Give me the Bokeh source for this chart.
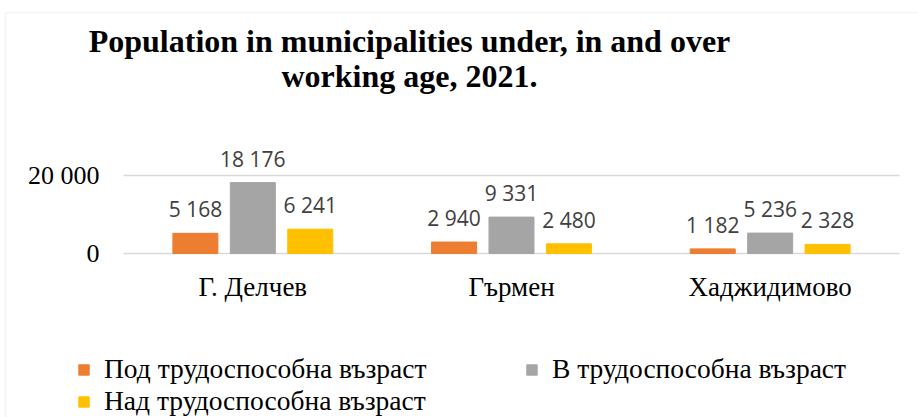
from bokeh.plotting import figure
from bokeh.models import (ColumnDataSource, Range1d, Label, Legend, LegendItem, BoxAnnotation)
from bokeh.core.properties import value
from bokeh.embed import file_html
from bokeh.resources import INLINE

categories = ["Г. Делчев", "Гърмен", "Хаджидимово"]
under_age = [5168, 2940, 1182]
working_age = [18176, 9331, 5236]
over_age = [6241, 2480, 2328]
series_names = ["Под трудоспособна възраст", "В трудоспособна възраст", "Над трудоспособна възраст"]
series_colors = ["#ED7D31", "#A5A5A5", "#FFC000"]
y_ticks = [0, 20000]
y_tick_labels = ["0", "20 000"]
title_lines = ["Population in municipalities under, in and over", "working age, 2021."]


def fmt(v):
    return f"{v:,}".replace(",", " ")


# ---- layout (pixels) ----
W, H = 918, 417
PLOT_L, PLOT_R = 123, 899        # plot area left/right edge (px)
Y0_PX, YMAX_PX = 253, 175        # pixel rows of value 0 and of the top tick
YMAX = y_ticks[-1]
n = len(categories)
px_per_cat = (PLOT_R - PLOT_L) / n
px_per_val = (Y0_PX - YMAX_PX) / YMAX

x_start = -0.5 - PLOT_L / px_per_cat
x_end = n - 0.5 + (W - PLOT_R) / px_per_cat
y_start = -(H - Y0_PX) / px_per_val
y_end = YMAX + YMAX_PX / px_per_val

p = figure(width=W, height=H, x_range=Range1d(x_start, x_end), y_range=Range1d(y_start, y_end),
           output_backend="svg", toolbar_location=None,
           x_axis_location=None, y_axis_location=None,
           min_border=0, min_border_left=0, min_border_right=0,
           min_border_top=0, min_border_bottom=0)
p.outline_line_color = None
p.xgrid.visible = False
p.ygrid.visible = False
p.background_fill_color = "white"
p.border_fill_color = "white"

SERIF = "Liberation Serif"
idx = list(range(n))

# gridlines at tick values
p.segment(x0=[-0.5] * len(y_ticks), x1=[n - 0.5] * len(y_ticks), y0=y_ticks, y1=y_ticks,
          line_color="#D9D9D9", line_width=1.5)

# y tick labels
p.text(x=[-0.5] * len(y_ticks), y=y_ticks, text=y_tick_labels, x_offset=-24,
       text_align="right", text_baseline="middle",
       text_font=value(SERIF), text_font_size="26px", text_color="#000000")

# category labels
p.text(x=idx, y=[0] * n, text=categories, y_offset=33,
       text_align="center", text_baseline="alphabetic",
       text_font=value(SERIF), text_font_size="27px", text_color="#000000")

offsets = [-0.222, 0.0, 0.222]
series = [under_age, working_age, over_age]
renderers = []
for vals, off, color in zip(series, offsets, series_colors):
    src = ColumnDataSource(dict(x=[i + off for i in idx], top=vals, lbl=[fmt(v) for v in vals]))
    r = p.vbar(x="x", top="top", width=0.174, source=src, fill_color=color, line_color=color)
    renderers.append(r)
    p.text(x="x", y="top", text="lbl", source=src, y_offset=-24,
           text_align="center", text_baseline="alphabetic",
           text_font=value("Open Sans"), text_font_size="21px", text_color="#404040")

legend = Legend(
    items=[LegendItem(label=nm, renderers=[r]) for nm, r in zip(series_names, renderers)],
    orientation="horizontal", ncols=2, location=(77, 0),
    border_line_color=None, background_fill_alpha=0, padding=0, margin=0, spacing=0,
    glyph_width=13, glyph_height=13, label_standoff=14, label_width=421, label_height=28,
    label_text_font=SERIF, label_text_font_size="27.5px", label_text_color="#000000",
)
p.add_layout(legend, "center")

for i, line in enumerate(title_lines):
    p.add_layout(Label(x=409, y=40 + 35 * i, x_units="canvas", y_units="canvas", text=line,
                       text_align="center", text_baseline="alphabetic",
                       text_font=SERIF, text_font_style="bold", text_font_size="32px",
                       text_color="#000000"))

p.add_layout(BoxAnnotation(left=5, right=3000, top=12, bottom=3000,
                           left_units="canvas", right_units="canvas",
                           top_units="canvas", bottom_units="canvas",
                           fill_alpha=0, line_color="#D9D9D9", line_width=1.5))

open("out.html", "w").write(file_html(p, INLINE))
